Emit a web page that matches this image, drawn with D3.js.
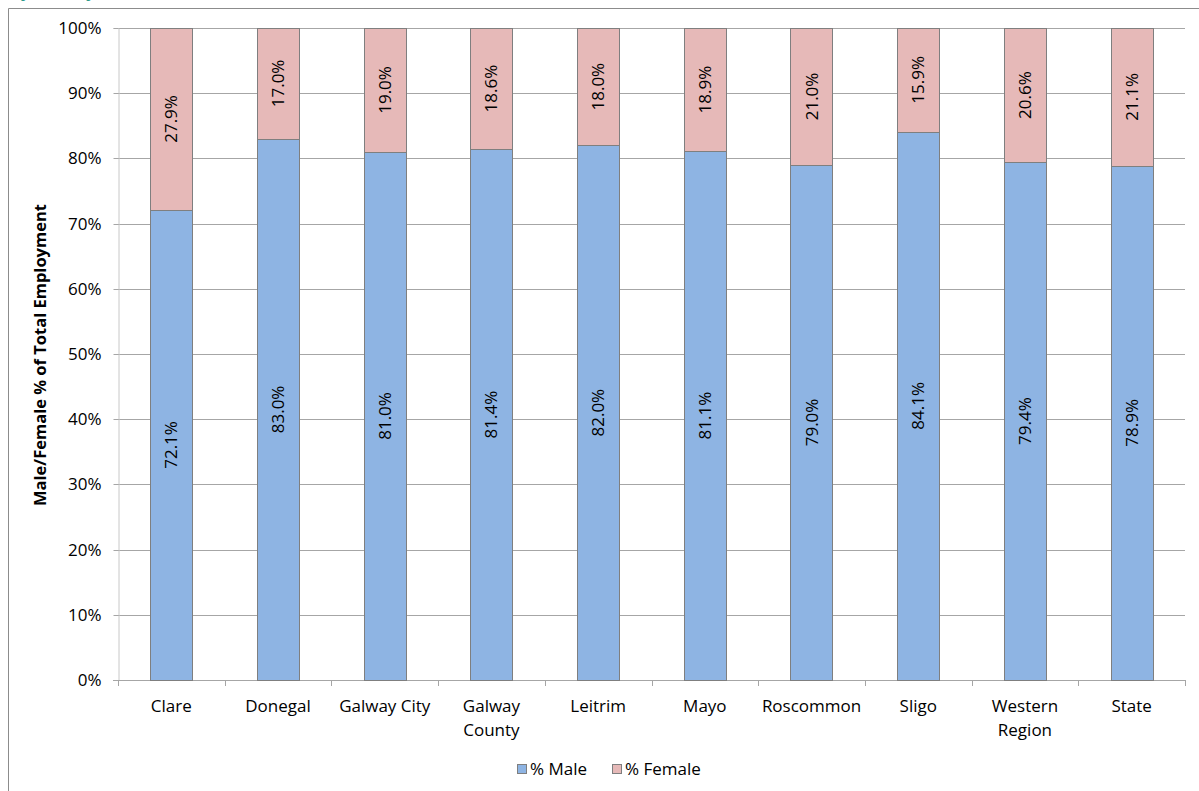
<!DOCTYPE html>
<html>
<head>
<meta charset="utf-8">
<script src="https://cdn.jsdelivr.net/npm/d3@7/dist/d3.min.js"></script>
<style>
  html, body { margin: 0; padding: 0; background: #fff; }
  svg { display: block; }
  text { font-family: "Open Sans", "Liberation Sans", sans-serif; }
</style>
</head>
<body>
<svg id="chart" width="1199" height="791"></svg>
<script>
// Employment share by sex, per county
const categories = ["Clare", "Donegal", "Galway City", "Galway County", "Leitrim",
                    "Mayo", "Roscommon", "Sligo", "Western Region", "State"];
const categoryLines = [["Clare"], ["Donegal"], ["Galway City"], ["Galway", "County"], ["Leitrim"],
                       ["Mayo"], ["Roscommon"], ["Sligo"], ["Western", "Region"], ["State"]];
const malePct   = [72.1, 83.0, 81.0, 81.4, 82.0, 81.1, 79.0, 84.1, 79.4, 78.9];
const femalePct = [27.9, 17.0, 19.0, 18.6, 18.0, 18.9, 21.0, 15.9, 20.6, 21.1];
const seriesNames = ["% Male", "% Female"];
const yTicks = [0, 10, 20, 30, 40, 50, 60, 70, 80, 90, 100];

const colors = { "% Male": "#8eb4e3", "% Female": "#e6b9b8" };
const fs = "17px";

const svg = d3.select("#chart");
const plot = { left: 118, right: 1185, top: 28, bottom: 680 };

// Outer chart frame (only top and left edges fall inside the view)
svg.append("path")
  .attr("d", "M8.5,791 V8.5 H1199")
  .attr("fill", "none").attr("stroke", "#8c8c8c").attr("stroke-width", 1);

// Heading strip, mostly above the visible area
svg.append("text")
  .attr("x", 10).attr("y", -3)
  .attr("fill", "#2e9a8c")
  .style("font-size", "17px").style("font-weight", "bold")
  .text("by County, 2011");

const x = d3.scaleBand().domain(categories).range([plot.left, plot.right]).paddingInner(0).paddingOuter(0);
const y = d3.scaleLinear().domain([0, 100]).range([plot.bottom, plot.top]);

// Horizontal gridlines
svg.append("g").selectAll("line").data(yTicks.filter(t => t > 0)).join("line")
  .attr("x1", plot.left).attr("x2", plot.right)
  .attr("y1", d => Math.round(y(d)) + 0.5).attr("y2", d => Math.round(y(d)) + 0.5)
  .attr("stroke", "#a6a6a6").attr("stroke-width", 1);

// Y axis
const yAxis = svg.append("g")
  .attr("transform", `translate(${plot.left + 0.5},0)`)
  .call(d3.axisLeft(y).tickValues(yTicks).tickFormat(d => d + "%").tickSize(5).tickPadding(12));
yAxis.select(".domain").attr("stroke", "#c8c8c8");
yAxis.selectAll(".tick line").attr("stroke", "#a6a6a6");
yAxis.selectAll(".tick text").style("font-size", fs).attr("fill", "#000");
yAxis.selectAll(".tick").attr("transform", d => `translate(0,${Math.round(y(d)) + 0.5})`);

// X axis baseline and category separators
const xAxisG = svg.append("g");
xAxisG.append("line")
  .attr("x1", plot.left - 5).attr("x2", plot.right)
  .attr("y1", plot.bottom + 0.5).attr("y2", plot.bottom + 0.5)
  .attr("stroke", "#a6a6a6");
const boundaries = categories.map(c => x(c)).concat([plot.right]);
xAxisG.selectAll("line.sep").data(boundaries).join("line")
  .attr("class", "sep")
  .attr("x1", d => Math.round(d) + 0.5).attr("x2", d => Math.round(d) + 0.5)
  .attr("y1", plot.bottom).attr("y2", plot.bottom + 6)
  .attr("stroke", "#a6a6a6");

// Category labels
const labelG = svg.append("g");
categories.forEach((c, i) => {
  const t = labelG.append("text")
    .attr("x", x(c) + x.bandwidth() / 2)
    .attr("y", 712)
    .attr("text-anchor", "middle")
    .style("font-size", fs).attr("fill", "#000");
  categoryLines[i].forEach((line, j) => {
    t.append("tspan").attr("x", x(c) + x.bandwidth() / 2).attr("dy", j === 0 ? 0 : 24).text(line);
  });
});

// Stacked bars
const rows = categories.map((c, i) => ({ cat: c, "% Male": malePct[i], "% Female": femalePct[i] }));
const stacked = d3.stack().keys(seriesNames)(rows);
const barW = x.bandwidth() * 0.395;

const layers = svg.append("g").selectAll("g").data(stacked).join("g")
  .attr("fill", d => colors[d.key]);
layers.selectAll("rect").data(d => d).join("rect")
  .attr("x", d => Math.round(x(d.data.cat) + (x.bandwidth() - barW) / 2) + 0.5)
  .attr("width", Math.round(barW))
  .attr("y", d => Math.round(y(d[1])) + 0.5)
  .attr("height", d => Math.round(y(d[0])) - Math.round(y(d[1])))
  .attr("stroke", "#7f7f7f").attr("stroke-width", 1);

// Value labels, rotated inside each segment
stacked.forEach(layer => {
  svg.append("g").selectAll("text").data(layer).join("text")
    .attr("transform", d => {
      const cx = x(d.data.cat) + x.bandwidth() / 2;
      const cy = (y(d[0]) + y(d[1])) / 2;
      return `translate(${cx},${cy}) rotate(-90)`;
    })
    .attr("text-anchor", "middle")
    .attr("dy", "0.35em")
    .style("font-size", fs).attr("fill", "#000")
    .text(d => (d[1] - d[0]).toFixed(1) + "%");
});

// Y axis title
svg.append("text")
  .attr("transform", `translate(46,${(plot.top + plot.bottom) / 2 + 1}) rotate(-90)`)
  .attr("text-anchor", "middle")
  .style("font-size", "16.5px").style("font-weight", "bold").attr("fill", "#000")
  .text("Male/Female % of Total Employment");

// Legend
const legend = svg.append("g");
const legendItems = [{ name: "% Male", x: 517 }, { name: "% Female", x: 612 }];
legendItems.forEach(it => {
  legend.append("rect")
    .attr("x", it.x + 0.5).attr("y", 764.5).attr("width", 9).attr("height", 9)
    .attr("fill", colors[it.name]).attr("stroke", "#7f7f7f");
  legend.append("text")
    .attr("x", it.x + 13).attr("y", 775)
    .style("font-size", fs).attr("fill", "#000")
    .text(it.name);
});
</script>
</body>
</html>
